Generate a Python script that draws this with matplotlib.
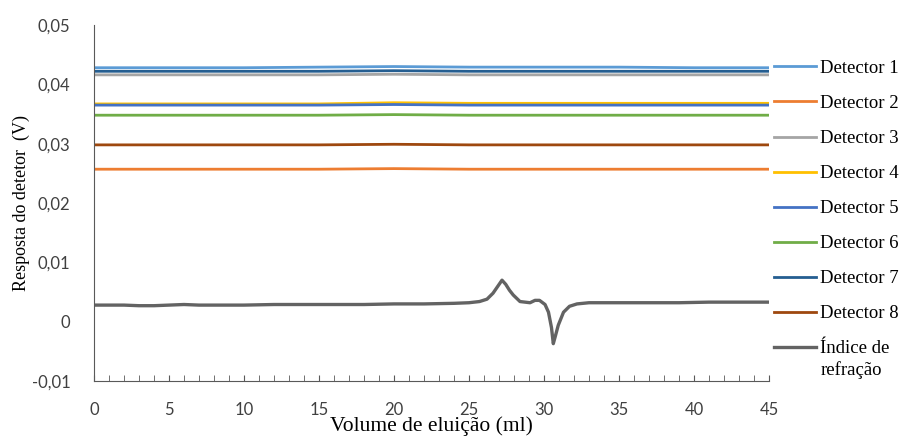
import matplotlib
matplotlib.use("Agg")
import matplotlib.pyplot as plt
from matplotlib.ticker import MultipleLocator, FuncFormatter

# volume (ml) sample points for the flat detector traces
vol = [0, 5, 10, 15, 20, 25, 30, 35, 40, 45]

det1 = [0.0428, 0.0428, 0.0428, 0.0429, 0.0430, 0.0429, 0.0429, 0.0429, 0.0428, 0.0428]
det2 = [0.0257, 0.0257, 0.0257, 0.0257, 0.0258, 0.0257, 0.0257, 0.0257, 0.0257, 0.0257]
det3 = [0.0416, 0.0416, 0.0416, 0.0416, 0.0417, 0.0416, 0.0416, 0.0416, 0.0416, 0.0416]
det4 = [0.0367, 0.0367, 0.0367, 0.0367, 0.0369, 0.0368, 0.0368, 0.0368, 0.0368, 0.0368]
det5 = [0.0365, 0.0365, 0.0365, 0.0365, 0.0366, 0.0365, 0.0365, 0.0365, 0.0365, 0.0365]
det6 = [0.0348, 0.0348, 0.0348, 0.0348, 0.0349, 0.0348, 0.0348, 0.0348, 0.0348, 0.0348]
det7 = [0.0422, 0.0422, 0.0422, 0.0422, 0.0423, 0.0422, 0.0422, 0.0422, 0.0422, 0.0422]
det8 = [0.0298, 0.0298, 0.0298, 0.0298, 0.0299, 0.0298, 0.0298, 0.0298, 0.0298, 0.0298]

# refractive index trace
vol_ri = [0, 1, 2, 3, 4, 5, 6, 7, 8, 10, 12, 14, 16, 18, 20, 22, 24, 25, 25.7, 26.2,
          26.6, 26.9, 27.2, 27.45, 27.7, 27.95, 28.4, 29.07, 29.4, 29.7, 30.07, 30.3,
          30.5, 30.62, 30.75, 30.95, 31.3, 31.7, 32.2, 33, 35, 37, 39, 41, 43, 45]
ri = [0.0028, 0.0028, 0.0028, 0.0027, 0.0027, 0.0028, 0.0029, 0.0028, 0.0028, 0.0028,
      0.0029, 0.0029, 0.0029, 0.0029, 0.0030, 0.0030, 0.0031, 0.0032, 0.0034, 0.0038,
      0.0048, 0.0059, 0.0070, 0.0063, 0.0053, 0.0045, 0.0034, 0.0032, 0.0036, 0.0036,
      0.0029, 0.0016, -0.0010, -0.0037, -0.0025, -0.0006, 0.0016, 0.0026, 0.0030,
      0.0032, 0.0032, 0.0032, 0.0032, 0.0033, 0.0033, 0.0033]

series = [det1, det2, det3, det4, det5, det6, det7, det8]
labels = ["Detector 1", "Detector 2", "Detector 3", "Detector 4",
          "Detector 5", "Detector 6", "Detector 7", "Detector 8"]
colors = ["#5B9BD5", "#ED7D31", "#A5A5A5", "#FFC000",
          "#4472C4", "#70AD47", "#255E91", "#9E480E"]

fig = plt.figure(figsize=(9.01, 4.37), dpi=100)
ax = fig.add_axes([0.1043, 0.128, 0.7492, 0.8148])

for y, lab, c in zip(series, labels, colors):
    ax.plot(vol, y, color=c, lw=2.0, label=lab)
ax.plot(vol_ri, ri, color="#636363", lw=2.4, label="Índice de")


def fmt(v, p):
    if abs(v) < 1e-9:
        return "0"
    return ("%.2f" % v).replace(".", ",")


ax.set_xlim(0, 45)
ax.set_ylim(-0.01, 0.05)
ax.xaxis.set_major_locator(MultipleLocator(5))
ax.xaxis.set_minor_locator(MultipleLocator(1))
ax.yaxis.set_major_locator(MultipleLocator(0.01))
ax.yaxis.set_major_formatter(FuncFormatter(fmt))
ax.tick_params(axis="x", which="both", direction="in", length=4, color="#595959",
               labelsize=12, pad=15, labelcolor="#404040")
ax.tick_params(axis="y", length=0, labelsize=12, pad=17, labelcolor="#404040")
for lab in ax.get_xticklabels() + ax.get_yticklabels():
    lab.set_fontfamily("Lato")

for s in ["top", "right"]:
    ax.spines[s].set_visible(False)
ax.spines["left"].set_color("#595959")
ax.spines["bottom"].set_color("#595959")

ax.set_xlabel("Volume de eluição (ml)", fontfamily="Liberation Serif", fontsize=15.5, labelpad=-1)
ax.set_ylabel("Resposta do detetor  (V)", fontfamily="Liberation Serif", fontsize=13,
              labelpad=1)

leg = ax.legend(loc="upper left", bbox_to_anchor=(1.008, 0.902), frameon=False,
                prop={"family": "Liberation Serif", "size": 13.5},
                handlelength=2.24, handletextpad=0.2, labelspacing=0.955, borderpad=0,
                borderaxespad=0)

# second line of the last legend label
fig.canvas.draw()
bb = leg.get_texts()[-1].get_window_extent()
fx, fy = fig.transFigure.inverted().transform((bb.x0, bb.y0))
fig.text(fx, fy - 0.008, "refração", fontfamily="Liberation Serif", fontsize=13.5, va="top")

fig.savefig("out.png", dpi=100)
